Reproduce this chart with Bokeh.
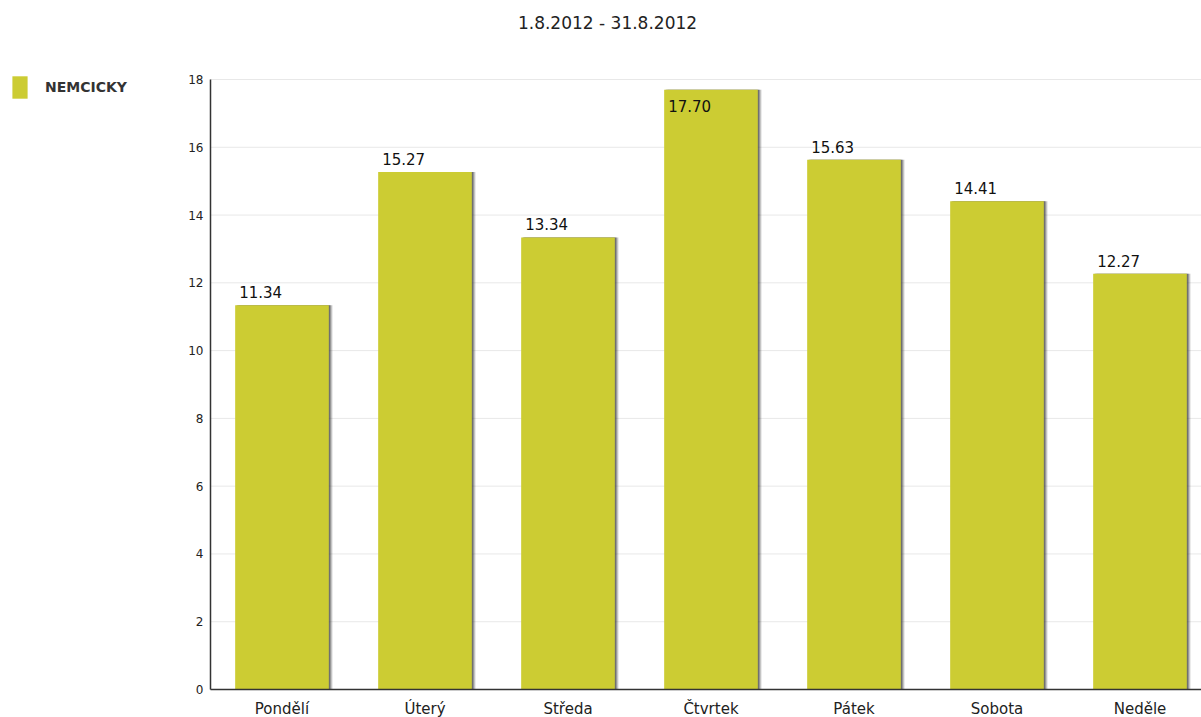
from bokeh.plotting import figure
from bokeh.models import ColumnDataSource, Range1d, Legend, LegendItem, Label, FixedTicker
from bokeh.transform import dodge
from bokeh.embed import file_html
from bokeh.resources import INLINE

days = ["Pondělí", "Úterý", "Středa", "Čtvrtek", "Pátek", "Sobota", "Neděle"]
values = [11.34, 15.27, 13.34, 17.70, 15.63, 14.41, 12.27]
series_name = "NEMCICKY"
title_text = "1.8.2012 - 31.8.2012"
y_ticks = [0, 2, 4, 6, 8, 10, 12, 14, 16, 18]

FONT = "DejaVu Sans"
BAR = "#CCCC33"
BW = 0.655

xs = list(range(len(days)))
labels = ["%.2f" % v for v in values]
src = ColumnDataSource(dict(x=xs, top=values, label=labels))

W, H = 1201, 717
# frame covers the whole canvas; axes are pinned with fixed_location
PX_X = 143.0          # pixels per category
X0_PX = 281.5         # pixel of first category centre
Y0_PX, Y18_PX = 689.0, 79.0
PX_Y = (Y0_PX - Y18_PX) / 18.0
x_start = -X0_PX / PX_X
x_end = (W - X0_PX) / PX_X
y_end = 18 + Y18_PX / PX_Y
y_start = -(H - Y0_PX) / PX_Y
x_axis_pos = -0.5

p = figure(width=W, height=H, output_backend="svg", toolbar_location=None,
           x_range=Range1d(x_start, x_end), y_range=Range1d(y_start, y_end),
           min_border_left=0, min_border_right=0, min_border_top=0,
           min_border_bottom=0)
p.outline_line_color = None
p.background_fill_color = "white"
p.border_fill_color = "white"

# grid lines (from the axis to the right edge)
p.xgrid.grid_line_color = None
p.ygrid.grid_line_color = None
p.segment(x0=[x_axis_pos] * len(y_ticks), x1=[x_end] * len(y_ticks),
          y0=y_ticks, y1=y_ticks, line_color="#e8e8e8", line_width=1)

# shadows
for off, a in [(0.026, 0.2), (0.018, 0.35), (0.010, 0.55)]:
    p.vbar(x=dodge("x", off, range=p.x_range), top="top", width=BW, bottom=0,
           source=src, fill_color="#444444", fill_alpha=a, line_color=None)
r = p.vbar(x="x", top="top", width=BW, bottom=0, source=src,
           fill_color=BAR, line_color=None)

# value labels
for x, v, t in zip(xs, values, labels):
    inside = v > 17
    p.add_layout(Label(x=x - BW / 2, y=v, text=t, x_offset=4,
                       y_offset=-16 if inside else 13,
                       text_baseline="alphabetic", text_font=FONT,
                       text_font_size="15px", text_color="#111111"))

# axes
p.xaxis.fixed_location = 0
p.xaxis.bounds = (x_axis_pos, x_end)
p.xaxis.ticker = FixedTicker(ticks=xs)
p.xaxis.major_label_overrides = {i: d for i, d in enumerate(days)}
p.xaxis.major_tick_line_color = None
p.xaxis.major_tick_out = 0
p.xaxis.minor_tick_line_color = None
p.xaxis.axis_line_color = "#333333"
p.xaxis.axis_line_width = 1.5
p.xaxis.major_label_text_font = FONT
p.xaxis.major_label_text_font_size = "15px"
p.xaxis.major_label_text_color = "#222222"
p.xaxis.major_label_standoff = 10

p.yaxis.fixed_location = x_axis_pos
p.yaxis.bounds = (0, 18)
p.yaxis.ticker = FixedTicker(ticks=y_ticks)
p.yaxis.major_tick_line_color = None
p.yaxis.major_tick_out = 0
p.yaxis.minor_tick_line_color = None
p.yaxis.axis_line_color = "#333333"
p.yaxis.axis_line_width = 1.5
p.yaxis.major_label_text_font = FONT
p.yaxis.major_label_text_font_size = "12px"
p.yaxis.major_label_text_color = "#222222"
p.yaxis.major_label_standoff = 7

# title
p.add_layout(Label(x=607, y=H - 22, x_units="screen", y_units="screen",
                   text=title_text, text_align="center", text_baseline="middle",
                   text_font=FONT, text_font_size="17px", text_color="#222222"))

legend = Legend(items=[LegendItem(label=series_name, renderers=[r])],
                location=(10, H - 73 - 28), orientation="vertical",
                label_text_font=FONT, label_text_font_size="14px",
                label_text_font_style="bold", label_text_color="#333333",
                glyph_width=19, glyph_height=28, label_standoff=16,
                border_line_color=None, background_fill_alpha=0,
                padding=0, margin=0, spacing=0)
p.add_layout(legend, "center")

open("out.html", "w").write(file_html(p, INLINE))
